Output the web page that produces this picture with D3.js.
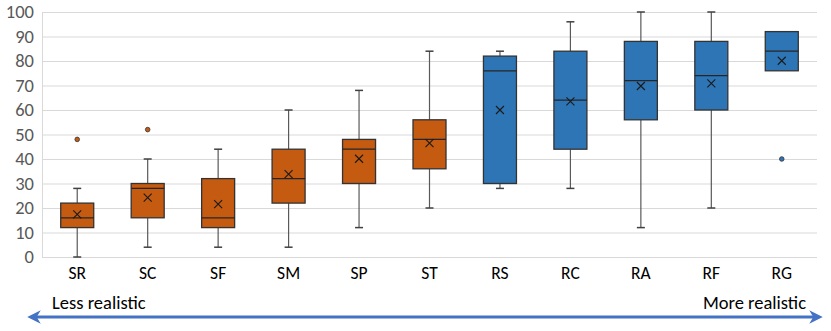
<!DOCTYPE html>
<html>
<head>
<meta charset="utf-8">
<script src="https://cdn.jsdelivr.net/npm/d3@7"></script>
<style>
body { margin: 0; background: #fff; }
text { font-family: Carlito, Lato, "Liberation Sans", sans-serif; }
</style>
</head>
<body>
<div id="chart"></div>
<script>
// categories and five-number summaries
var cats     = ["SR", "SC", "SF", "SM", "SP", "ST", "RS", "RC", "RA", "RF", "RG"];
var mins     = [0, 4, 4, 4, 12, 20, 28, 28, 12, 20, 76];
var q1s      = [12, 16, 12, 22, 30, 36, 30, 44, 56, 60, 76];
var medians  = [16, 28, 16, 32, 44, 48, 76, 64, 72, 74, 84];
var q3s      = [22, 30, 32, 44, 48, 56, 82, 84, 88, 88, 92];
var maxs     = [28, 40, 44, 60, 68, 84, 84, 96, 100, 100, 92];
var means    = [17.4, 24.2, 21.6, 33.8, 40.1, 46.5, 60, 63.5, 69.8, 70.9, 80.1];
var outliers = [[48], [52], [], [], [], [], [], [], [], [], [40]];
var groups   = ["S", "S", "S", "S", "S", "S", "R", "R", "R", "R", "R"];
var yTicks   = [0, 10, 20, 30, 40, 50, 60, 70, 80, 90, 100];

var colors = { S: "#c55a11", R: "#2e75b6" };

var W = 831, H = 331;
var svg = d3.select("#chart").append("svg")
	.attr("width", W)
	.attr("height", H);

var x = d3.scaleBand().domain(cats).range([42, 817]);
var y = d3.scaleLinear().domain([0, 100]).range([257, 12]);

var data = cats.map(function(c, i) {
	return { cat: c, min: mins[i], q1: q1s[i], med: medians[i], q3: q3s[i],
		max: maxs[i], mean: means[i], out: outliers[i], g: groups[i] };
});

// gridlines
svg.append("g").selectAll("line").data(yTicks)
	.enter().append("line")
	.attr("x1", 42).attr("x2", 817)
	.attr("y1", function(d) { return y(d) + 0.5; })
	.attr("y2", function(d) { return y(d) + 0.5; })
	.attr("stroke", "#d9d9d9")
	.attr("stroke-width", 1);
svg.append("line")
	.attr("x1", 42.5).attr("x2", 42.5)
	.attr("y1", y(100)).attr("y2", y(0))
	.attr("stroke", "#d9d9d9");

// y axis labels
var yAxis = svg.append("g")
	.attr("transform", "translate(34,0)")
	.call(d3.axisLeft(y).tickValues(yTicks).tickSize(0).tickPadding(0));
yAxis.select(".domain").remove();
yAxis.selectAll("text")
	.attr("fill", "#595959")
	.style("font-size", "18.5px")
	.style("font-family", "Carlito, Lato, 'Liberation Sans', sans-serif");

// x axis labels
var xAxis = svg.append("g")
	.attr("transform", "translate(0,263)")
	.call(d3.axisBottom(x).tickSize(0).tickPadding(0));
xAxis.select(".domain").remove();
xAxis.selectAll("text")
	.attr("fill", "#000")
	.attr("dy", "0.9em")
	.style("font-size", "17.5px")
	.style("font-family", "Carlito, Lato, 'Liberation Sans', sans-serif");

var bw = 33, cap = 8;
var box = svg.selectAll("g.box").data(data)
	.enter().append("g")
	.attr("class", "box")
	.attr("transform", function(d) { return "translate(" + (x(d.cat) + x.bandwidth() / 2) + ",0)"; });

// whiskers
box.append("line")
	.attr("x1", 0).attr("x2", 0)
	.attr("y1", function(d) { return y(d.max); })
	.attr("y2", function(d) { return y(d.q3); })
	.attr("stroke", "#595959").attr("stroke-width", 1.2);
box.append("line")
	.attr("x1", 0).attr("x2", 0)
	.attr("y1", function(d) { return y(d.q1); })
	.attr("y2", function(d) { return y(d.min); })
	.attr("stroke", "#595959").attr("stroke-width", 1.2);
box.filter(function(d) { return d.max > d.q3; }).append("line")
	.attr("x1", -cap / 2).attr("x2", cap / 2)
	.attr("y1", function(d) { return y(d.max); })
	.attr("y2", function(d) { return y(d.max); })
	.attr("stroke", "#404040").attr("stroke-width", 1.5);
box.filter(function(d) { return d.min < d.q1; }).append("line")
	.attr("x1", -cap / 2).attr("x2", cap / 2)
	.attr("y1", function(d) { return y(d.min); })
	.attr("y2", function(d) { return y(d.min); })
	.attr("stroke", "#404040").attr("stroke-width", 1.5);

// boxes
box.append("rect")
	.attr("x", -bw / 2)
	.attr("width", bw)
	.attr("y", function(d) { return y(d.q3); })
	.attr("height", function(d) { return y(d.q1) - y(d.q3); })
	.attr("fill", function(d) { return colors[d.g]; })
	.attr("stroke", "#333")
	.attr("stroke-width", 1.3);

// median
box.append("line")
	.attr("x1", -bw / 2).attr("x2", bw / 2)
	.attr("y1", function(d) { return y(d.med); })
	.attr("y2", function(d) { return y(d.med); })
	.attr("stroke", "#262626").attr("stroke-width", 1.3);

// mean marker
box.append("path")
	.attr("transform", function(d) { return "translate(0," + y(d.mean) + ")"; })
	.attr("d", "M-4,-4L4,4M-4,4L4,-4")
	.attr("stroke", "#1a1a1a").attr("stroke-width", 1.1);

// outliers
box.selectAll("circle").data(function(d) { return d.out.map(function(v) { return { v: v, g: d.g }; }); })
	.enter().append("circle")
	.attr("cx", 0)
	.attr("cy", function(d) { return y(d.v); })
	.attr("r", 2.3)
	.attr("fill", function(d) { return colors[d.g]; })
	.attr("stroke", "#333").attr("stroke-width", 0.8);

// realism arrow
var defs = svg.append("defs");
defs.append("marker").attr("id", "ah")
	.attr("viewBox", "0 0 10 10").attr("refX", 5).attr("refY", 5)
	.attr("markerWidth", 4.5).attr("markerHeight", 4.5)
	.attr("orient", "auto-start-reverse")
	.append("path").attr("d", "M0,0L10,5L0,10L3,5Z").attr("fill", "#4472c4");
svg.append("line")
	.attr("x1", 34).attr("x2", 816)
	.attr("y1", 317).attr("y2", 317)
	.attr("stroke", "#4472c4").attr("stroke-width", 3)
	.attr("marker-start", "url(#ah)")
	.attr("marker-end", "url(#ah)");
svg.append("text")
	.attr("x", 52).attr("y", 309)
	.attr("font-size", "18.5px").attr("fill", "#000")
	.text("Less realistic");
svg.append("text")
	.attr("x", 806).attr("y", 309)
	.attr("text-anchor", "end")
	.attr("font-size", "18.5px").attr("fill", "#000")
	.text("More realistic");
</script>
</body>
</html>
